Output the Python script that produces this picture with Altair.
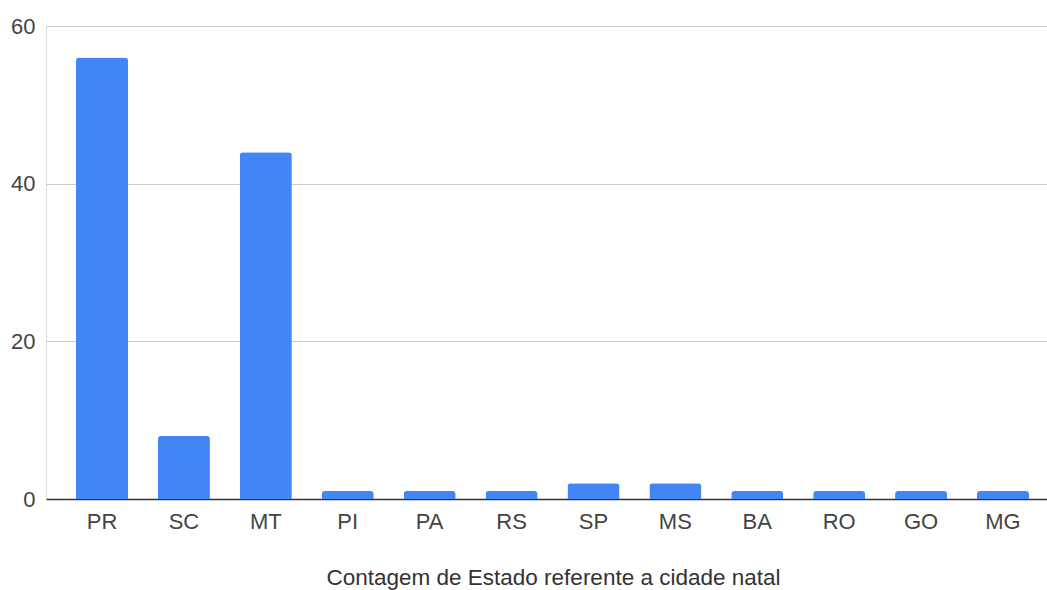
import altair as alt
import pandas as pd

# Count of respondents by home-city state
estados = ["PR", "SC", "MT", "PI", "PA", "RS", "SP", "MS", "BA", "RO", "GO", "MG"]
contagem = [56, 8, 44, 1, 1, 1, 2, 2, 1, 1, 1, 1]

df = pd.DataFrame({"Estado": estados, "Contagem": contagem})

FONT = "Liberation Sans"

chart = (
    alt.Chart(df)
    .mark_bar(color="#4285F4", cornerRadiusTopLeft=3, cornerRadiusTopRight=3)
    .encode(
        x=alt.X(
            "Estado:N",
            sort=estados,
            title="Contagem de Estado referente a cidade natal",
            scale=alt.Scale(paddingInner=0.365, paddingOuter=0.293, align=0.625),
            axis=alt.Axis(
                labelAngle=0,
                labelFont=FONT,
                labelFontSize=22,
                labelColor="#444444",
                labelPadding=12,
                ticks=False,
                domainColor="#333333",
                domainWidth=1.5,
                titleFont=FONT,
                titleFontSize=22.5,
                titleFontWeight="normal",
                titleColor="#333333",
                titlePadding=34,
                titleX=507,
                titleAnchor="middle",
            ),
        ),
        y=alt.Y(
            "Contagem:Q",
            title=None,
            scale=alt.Scale(domain=[0, 60], nice=False),
            axis=alt.Axis(
                values=[0, 20, 40, 60],
                labelFont=FONT,
                labelFontSize=22,
                labelColor="#444444",
                labelPadding=11,
                ticks=False,
                domain=False,
                gridColor="#cccccc",
                gridWidth=1.2,
            ),
        ),
    )
    .properties(
        width=1001,
        height=473,
        autosize=alt.AutoSizeParams(type="none"),
        padding={"left": 46, "top": 26, "right": 0, "bottom": 91},
    )
    .configure_view(stroke=None)
    .configure(background="white")
)

chart.save("out.html", embed_options={"renderer": "svg", "actions": False})
